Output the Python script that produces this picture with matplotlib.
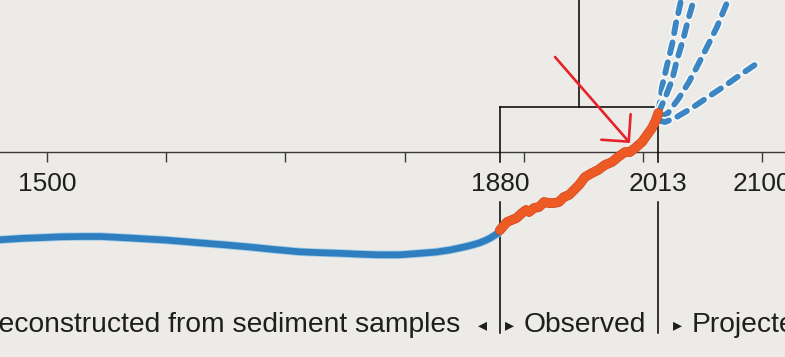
import matplotlib
matplotlib.use("Agg")
import matplotlib.pyplot as plt
import matplotlib.patheffects as pe
from matplotlib.patches import FancyArrowPatch
import matplotlib.transforms as mtransforms

# ---------------- data (sea level, cm relative to 1880) ----------------
recon_years = [1460, 1480, 1500, 1511, 1530, 1545, 1570, 1600, 1628, 1650, 1670,
               1690, 1712, 1730, 1746, 1763, 1779, 1796, 1813, 1826, 1838, 1850,
               1857, 1863, 1868, 1872, 1876, 1880]
recon_cm = [-1.3, -1.05, -0.9, -0.8, -0.75, -0.75, -1.0, -1.35, -1.8, -2.15, -2.5,
            -2.9, -3.3, -3.45, -3.55, -3.7, -3.8, -3.8, -3.55, -3.35, -3.0, -2.5,
            -2.15, -1.8, -1.4, -1.0, -0.5, 0.0]

obs_years = [1880, 1886, 1890, 1894, 1898.6, 1902, 1904.5, 1908.7, 1912.9, 1917.1,
             1921.3, 1925.4, 1929.6, 1933.8, 1938, 1942.2, 1946.4, 1951.5, 1957.3,
             1962.4, 1968.2, 1974.1, 1979.2, 1985, 1989.2, 1993.5, 1999.3, 2003.5,
             2007.7, 2011, 2013]
obs_cm = [0.3, 1.67, 2.0, 2.33, 3.17, 3.67, 3.33, 4.0, 4.17, 5.0, 4.83, 4.83, 5.0,
          5.83, 6.17, 7.0, 7.83, 9.17, 9.83, 10.33, 11.17, 11.67, 12.5, 13.33, 13.33,
          14.0, 15.0, 16.17, 17.33, 18.67, 19.83]

projA_years = [2013, 2016.1, 2020.3, 2024.5, 2027.8, 2031.2, 2034.5]
projA_cm = [19.8, 24.2, 27.8, 31.2, 34.8, 37.8, 41.2]
projB_years = [2013, 2018.6, 2024.5, 2028.7, 2033.7, 2037.9, 2042.1, 2045]
projB_cm = [19.8, 22.3, 25.3, 28.7, 32.0, 35.3, 38.2, 41.0]
projC_years = [2014, 2021.1, 2030.3, 2038.7, 2047.1, 2054.7, 2062.2, 2069.8, 2073.1]
projC_cm = [19.0, 19.83, 22.33, 25.0, 28.17, 31.17, 34.17, 37.83, 39.3]
projD_years = [2013, 2018.6, 2027, 2041.2, 2054.7, 2069.8, 2084, 2100]
projD_cm = [18.6, 18.33, 19.0, 20.67, 22.5, 24.5, 26.5, 28.67]

tick_years = [1500, 1600, 1700, 1800, 1900, 2000, 2100]
label_years = [1500, 1880, 2013, 2100]
label_texts = ["1500", "1880", "2013", "2100"]
period_start, period_end = 1880, 2013

# ---------------- figure ----------------
W, H = 785, 357
fig = plt.figure(figsize=(W / 100, H / 100), dpi=100)
bg = "#ecebe7"
fig.patch.set_facecolor(bg)
ax = fig.add_axes([0, 0, 1, 1])
ax.set_facecolor(bg)
ax.set_xlim(1460.56, 2119.3)
ax.set_ylim(-20.83, 38.67)
ax.axis("off")

def fy(px):
    return 1 - px / H

trans = mtransforms.blended_transform_factory(ax.transData, ax.transAxes)
ink = "#1e1e1e"
font = "Liberation Sans"

# axis line and ticks
ax.plot([0, 1], [fy(152), fy(152)], transform=ax.transAxes, color="#3a3a3a", lw=1.0, zorder=1)
ax.vlines(tick_years, fy(152), fy(162), transform=trans, color="#3a3a3a", lw=1.0, zorder=1)
for yr, txt in zip(label_years, label_texts):
    ax.text(yr, fy(184), txt, transform=trans, ha="center", va="center",
            fontsize=19, family=font, color=ink)

# box / bracket lines
lw_box = 1.1
for yr in (period_start, period_end):
    ax.plot([yr, yr], [fy(107), fy(162)], transform=trans, color="black", lw=lw_box, zorder=1)
    ax.plot([yr, yr], [fy(202), fy(333)], transform=trans, color="black", lw=lw_box, zorder=1)
ax.plot([period_start, period_end], [fy(107), fy(107)], transform=trans, color="black", lw=lw_box, zorder=1)
mid = (period_start + period_end) / 2
ax.plot([mid, mid], [fy(107), 1.01], transform=trans, color="black", lw=lw_box, zorder=1)

# reconstructed
blue = "#2f7ebf"
ax.plot(recon_years, recon_cm, color=blue, lw=4.8, solid_capstyle="butt", zorder=3,
        path_effects=[pe.Stroke(linewidth=6.0, foreground="#9fcbe6"), pe.Normal()])

# projections
for xs, ys in [(projA_years, projA_cm), (projB_years, projB_cm),
               (projC_years, projC_cm), (projD_years, projD_cm)]:
    ax.plot(xs, ys, color="#3c86c3", lw=4.2, dashes=(1.9, 1.6), dash_capstyle="round",
            zorder=4,
            path_effects=[pe.Stroke(linewidth=6.5, foreground="#f8f8f6"), pe.Normal()])

# observed
ax.plot(obs_years, obs_cm, color="#ee5a24", lw=6.2, solid_capstyle="round", zorder=5,
        path_effects=[pe.Stroke(linewidth=7.0, foreground="#c9421d"), pe.Normal()])

# red arrow
arr = FancyArrowPatch((1926.3, 29.17), (1989.2, 14.83),
                      arrowstyle="->,head_length=14,head_width=14",
                      mutation_scale=1, color="#e6222b", lw=1.9, zorder=6,
                      shrinkA=0, shrinkB=0)
ax.add_patch(arr)

# bottom period labels
yb = fy(325)
fs_b = 20.3
ax.text(460 / W, yb, "Reconstructed from sediment samples", transform=ax.transAxes,
        ha="right", va="center", fontsize=fs_b, family=font, color=ink)
ax.text(482 / W, yb, "\u25C2", transform=ax.transAxes, ha="center", va="center",
        fontsize=13, family="DejaVu Sans", color=ink)
ax.text(509 / W, yb, "\u25B8", transform=ax.transAxes, ha="center", va="center",
        fontsize=13, family="DejaVu Sans", color=ink)
ax.text(524 / W, yb, "Observed", transform=ax.transAxes, ha="left", va="center",
        fontsize=fs_b, family=font, color=ink)
ax.text(677 / W, yb, "\u25B8", transform=ax.transAxes, ha="center", va="center",
        fontsize=13, family="DejaVu Sans", color=ink)
ax.text(692 / W, yb, "Projected", transform=ax.transAxes, ha="left", va="center",
        fontsize=fs_b, family=font, color=ink)

fig.savefig("out.png", dpi=100, facecolor=bg)
